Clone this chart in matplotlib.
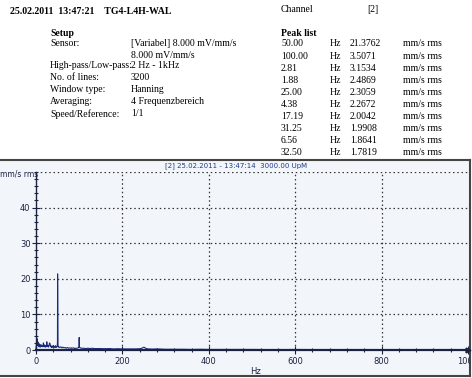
import matplotlib
matplotlib.use("Agg")
import matplotlib.pyplot as plt
from matplotlib.ticker import MultipleLocator

# header info
title_line = "25.02.2011  13:47:21    TG4-L4H-WAL"
setup_labels = ["Sensor:", "", "High-pass/Low-pass:", "No. of lines:", "Window type:",
                "Averaging:", "Speed/Reference:"]
setup_values = ["[Variabel] 8.000 mV/mm/s", "8.000 mV/mm/s", "2 Hz - 1kHz", "3200",
                "Hanning", "4 Frequenzbereich", "1/1"]

# peak list
peak_freq = ["50.00", "100.00", "2.81", "1.88", "25.00", "4.38", "17.19", "31.25", "6.56", "32.50"]
peak_amp = ["21.3762", "3.5071", "3.1534", "2.4869", "2.3059", "2.2672", "2.0042", "1.9908",
            "1.8641", "1.7819"]

# spectrum
freq = [0, 0.94, 1.88, 2.5, 2.81, 3.44, 4.38, 5.31, 6.56, 7.5, 8.75, 10.0, 11.25, 12.5,
        13.75, 15.0, 16.25, 17.19, 18.44, 20.0, 21.25, 22.5, 23.75, 25.0, 26.25, 27.5,
        28.75, 30.0, 31.25, 32.5, 33.75, 35.0, 36.25, 37.5, 38.75, 40.0, 41.25, 42.5,
        43.75, 45.0, 46.25, 47.5, 49.06, 49.69, 50.0, 50.31, 50.94, 51.56, 52.5, 55, 57.5,
        60, 62.5, 65, 67.5, 70, 72.5, 75, 77.5, 80, 82.5, 85, 87.5, 90, 92.5, 95, 97.5,
        99.38, 100.0, 100.63, 102.5, 105, 110, 115, 120, 125, 130, 135, 140, 145, 150,
        160, 170, 180, 190, 200, 210, 220, 230, 240, 245, 250, 255, 260, 270, 280, 290,
        300, 320, 340, 360, 380, 400, 450, 500, 550, 600, 650, 700, 750, 800, 850, 900,
        950, 1000]
amp = [0.3, 1.6, 2.49, 1.2, 3.15, 1.5, 2.27, 1.1, 1.86, 0.9, 1.4, 0.8, 1.5, 1.0,
       1.3, 0.9, 1.2, 2.0, 0.9, 1.4, 0.8, 1.2, 0.9, 2.31, 1.0, 1.3, 0.8, 1.1, 1.99,
       1.78, 0.9, 1.2, 0.7, 1.0, 0.8, 1.3, 0.7, 1.0, 0.8, 1.2, 0.7, 0.9, 1.0, 2.2,
       21.38, 15.6, 1.5, 0.8, 0.9, 0.7, 0.9, 0.6, 0.8, 0.6, 0.7, 0.5, 0.7, 0.5, 0.6,
       0.5, 0.6, 0.5, 0.6, 0.4, 0.5, 0.5, 0.6, 0.9, 3.51, 0.8, 0.6, 0.5, 0.5, 0.4, 0.5,
       0.4, 0.5, 0.4, 0.4, 0.4, 0.4, 0.35, 0.4, 0.3, 0.35, 0.3, 0.3, 0.3, 0.3, 0.35,
       0.5, 0.8, 0.4, 0.3, 0.25, 0.3, 0.25, 0.2, 0.2, 0.2, 0.15, 0.2, 0.15, 0.15, 0.15,
       0.1, 0.15, 0.1, 0.1, 0.1, 0.1, 0.1, 0.1, 0.1, 0.1]

W, H = 472, 378
fig = plt.figure(figsize=(W / 100, H / 100), dpi=100)

def fx(px):
    return px / W

def fy(py):
    return 1 - py / H

serif = "Liberation Serif"
fs = 7.0

fig.text(fx(10), fy(12), title_line, family=serif, fontsize=7.1, weight="bold", va="center")
fig.text(fx(50), fy(33), "Setup", family=serif, fontsize=fs, weight="bold", va="center")
rows_y = [44, 55, 66, 78, 90, 102, 114]
for lab, val, y in zip(setup_labels, setup_values, rows_y):
    if lab:
        fig.text(fx(50), fy(y), lab, family=serif, fontsize=fs, va="center")
    fig.text(fx(131), fy(y), val, family=serif, fontsize=fs, va="center")

fig.text(fx(281), fy(10), "Channel", family=serif, fontsize=fs, va="center")
fig.text(fx(367), fy(10), "[2]", family=serif, fontsize=fs, va="center")
fig.text(fx(281), fy(33), "Peak list", family=serif, fontsize=fs, weight="bold", va="center")
for i, (f, a) in enumerate(zip(peak_freq, peak_amp)):
    y = 44 + i * 12.1
    fig.text(fx(281), fy(y), f, family=serif, fontsize=fs, va="center")
    fig.text(fx(330), fy(y), "Hz", family=serif, fontsize=fs, va="center")
    fig.text(fx(350), fy(y), a, family=serif, fontsize=fs, va="center")
    fig.text(fx(403), fy(y), "mm/s rms", family=serif, fontsize=fs, va="center")

# chart panel frame (background axes)
bg = fig.add_axes([fx(-3), fy(376), fx(473), (376 - 160) / H], zorder=0)
bg.set_facecolor("#f2f6fb")
bg.set_xticks([])
bg.set_yticks([])
for s in bg.spines.values():
    s.set_color("#444444")
    s.set_linewidth(1.5)
bg.text(0.505, 0.975, "[2] 25.02.2011 - 13:47:14  3000.00 UpM", transform=bg.transAxes,
        fontsize=5.0, color="#1f3a8f", ha="center", va="center")
bg.text(0.006, 0.935, "mm/s rms", transform=bg.transAxes, fontsize=5.5, color="#1b2340",
        va="center")
bg.text(0.535, 0.02, "Hz", transform=bg.transAxes, fontsize=6, color="#1b2340", va="center")

ax = fig.add_axes([fx(36), fy(350), fx(468 - 36), (350 - 172) / H], zorder=1)
ax.set_facecolor("none")
ax.plot(freq, amp, color="#1b2a7a", lw=0.8, clip_on=False)
ax.set_xlim(0, 1000)
ax.set_ylim(0, 50)

ax.xaxis.set_major_locator(MultipleLocator(200))
ax.xaxis.set_minor_locator(MultipleLocator(40))
ax.set_yticks([0, 10, 20, 30, 40])
ax.yaxis.set_minor_locator(MultipleLocator(2))
ax.tick_params(which="both", direction="inout", colors="#1b2340", labelsize=6, width=0.8)
ax.tick_params(which="major", length=6)
ax.tick_params(which="minor", length=3)
ax.tick_params(axis="y", pad=1)
ax.tick_params(axis="x", pad=2)

for y in [10, 20, 30, 40, 50]:
    ax.axhline(y, color="#333333", lw=0.9, ls=(0, (1.2, 2.2)), zorder=0)
for x in [200, 400, 600, 800]:
    ax.axvline(x, color="#333333", lw=0.9, ls=(0, (1.2, 2.2)), zorder=0)

for s in ["top", "right"]:
    ax.spines[s].set_visible(False)
ax.spines["left"].set_color("#1b2340")
ax.spines["bottom"].set_color("#1b2340")
ax.spines["left"].set_linewidth(1.0)
ax.spines["bottom"].set_linewidth(1.6)
ax.plot([1], [0], marker=">", ms=3.5, color="#1b2340", transform=ax.transAxes, clip_on=False)

# tick labels clipped by the panel border, like the "1000" at the right edge
fig.canvas.draw()
for lbl in ax.get_xticklabels():
    lbl.set_clip_box(bg.bbox)
    lbl.set_clip_on(True)

fig.savefig("out.png", dpi=100)
